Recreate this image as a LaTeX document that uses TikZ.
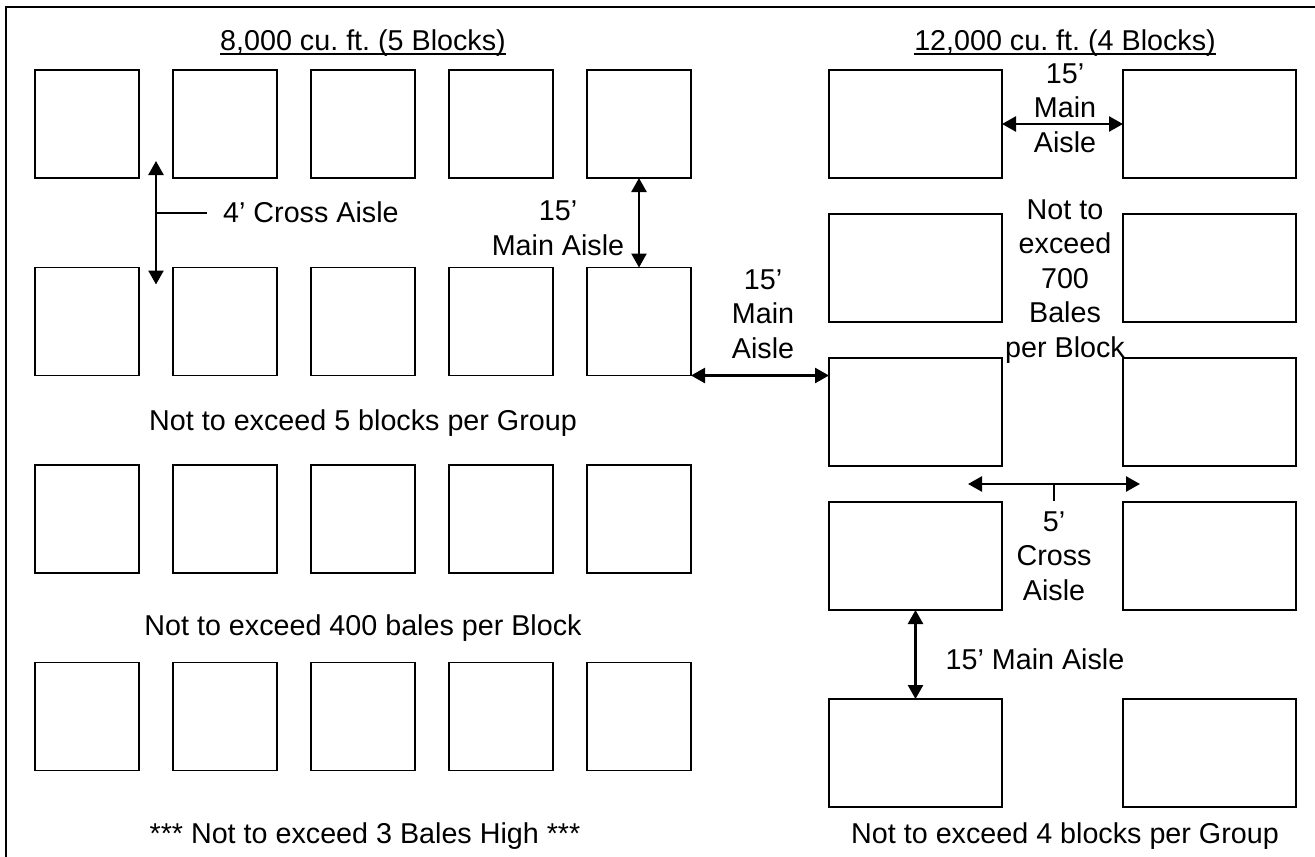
\documentclass[tikz,border=0pt]{standalone}
\usepackage{fontspec}
\setmainfont{Liberation Sans}
\usetikzlibrary{arrows.meta, positioning, calc}

\begin{document}
\begin{tikzpicture}[
  x=1pt, y=-1pt,
  font=\fontsize{28.7}{34.5}\selectfont,
  arrow/.style={{Triangle[length=14pt,width=15pt]}-{Triangle[length=14pt,width=15pt]}, line width=2.5pt},
  bale/.style={draw, line width=1.8pt, inner sep=0pt, outer sep=0pt, minimum height=108pt},
  sqblock/.style={bale, minimum width=104pt},
  wideblock/.style={bale, minimum width=173pt},
  lbl/.style={inner sep=0pt, align=center, anchor=base}, % base = last line
  leader/.style={line width=1.3pt},
  uline/.style={line width=2pt},
  frame/.style={line width=1.5pt},
  node distance=89.5pt and 34pt % rows and columns of the small blocks
]
\useasboundingbox (0,0) rectangle (1315,857);
\draw[frame] (6,857) -- (6,7) -- (1315,7);

% =========================
% LEFT GROUP: 8,000 cu. ft.
% =========================
\node[lbl] (ltitle) at (363,50) {8,000 cu.\ ft.\ (5 Blocks)};
\draw[uline] ([yshift=-3.5pt]ltitle.base west) -- ([yshift=-3.5pt]ltitle.base east);

\node[sqblock, anchor=north west] (a1) at (35,70) {};
\node[sqblock, right=of a1] (a2) {};
\node[sqblock, right=of a2] (a3) {};
\node[sqblock, right=of a3] (a4) {};
\node[sqblock, right=of a4] (a5) {};

\node[sqblock, below=of a1] (b1) {};
\node[sqblock, right=of b1] (b2) {};
\node[sqblock, right=of b2] (b3) {};
\node[sqblock, right=of b3] (b4) {};
\node[sqblock, right=of b4] (b5) {};

\node[sqblock, below=of b1] (c1) {};
\node[sqblock, right=of c1] (c2) {};
\node[sqblock, right=of c2] (c3) {};
\node[sqblock, right=of c3] (c4) {};
\node[sqblock, right=of c4] (c5) {};

\node[sqblock, below=of c1] (d1) {};
\node[sqblock, right=of d1] (d2) {};
\node[sqblock, right=of d2] (d3) {};
\node[sqblock, right=of d3] (d4) {};
\node[sqblock, right=of d4] (d5) {};

\node[lbl, anchor=base west] (lcross) at (223,222) {4’ Cross Aisle};
\node[lbl] (lmain) at (558,255) {15’\\Main Aisle};
\node[lbl] (lgroup) at (363,430) {Not to exceed 5 blocks per Group};
\node[lbl] (lbales) at (363,635) {Not to exceed 400 bales per Block};
\node[lbl] (lhigh) at (365,843) {*** Not to exceed 3 Bales High ***};

\coordinate (lc) at ([xshift=17pt,yshift=-35pt]a1.south east);
\draw[arrow] ([xshift=17pt,yshift=17pt]a1.south east) -- ([xshift=17pt,yshift=-17pt]b1.north east);
\draw[leader] (lc) -- ++(51,0);
\draw[arrow] (a5) -- (b5);

% =========================
% RIGHT GROUP: 12,000 cu. ft.
% =========================
\node[lbl] (rtitle) at (1065,50) {12,000 cu.\ ft.\ (4 Blocks)};
\draw[uline] ([yshift=-3.5pt]rtitle.base west) -- ([yshift=-3.5pt]rtitle.base east);

\node[wideblock, anchor=north west] (r1) at (829,70) {};
\node[wideblock, right=121pt of r1] (s1) {};
\node[wideblock, below=36pt of r1] (r2) {};
\node[wideblock, right=121pt of r2] (s2) {};
\node[wideblock, below=36pt of r2] (r3) {};
\node[wideblock, right=121pt of r3] (s3) {};
\node[wideblock, below=36pt of r3] (r4) {};
\node[wideblock, right=121pt of r4] (s4) {};
\node[wideblock, below=89pt of r4] (r5) {};
\node[wideblock, right=121pt of r5] (s5) {};

\node[lbl] (rmain) at (1065,152) {15’\\Main\\Aisle};
\node[lbl] (rnote) at (1065,357) {Not to\\exceed\\700\\Bales\\per Block};
\node[lbl] (rcross) at (1054,600) {5’\\Cross\\Aisle};
\node[lbl] (rmain2) at (1035,669) {15’ Main Aisle};
\node[lbl] (rgroup) at (1065,843) {Not to exceed 4 blocks per Group};

\draw[arrow] (r1) -- (s1);
\coordinate (xl) at ([xshift=-34pt,yshift=-18pt]r3.south east);
\coordinate (xr) at ([xshift=17pt,yshift=-18pt]s3.south west);
\draw[arrow] (xl) -- (xr);
\draw[leader] ($(xl)!0.5!(xr)$) -- ++(0,17);
\draw[arrow] (r4) -- (r5);

% middle main aisle
\node[lbl] (mmain) at (763,358) {15’\\Main\\Aisle};
\draw[arrow] (b5.south east) -- (b5.south east -| r3.west);

\end{tikzpicture}
\end{document}
